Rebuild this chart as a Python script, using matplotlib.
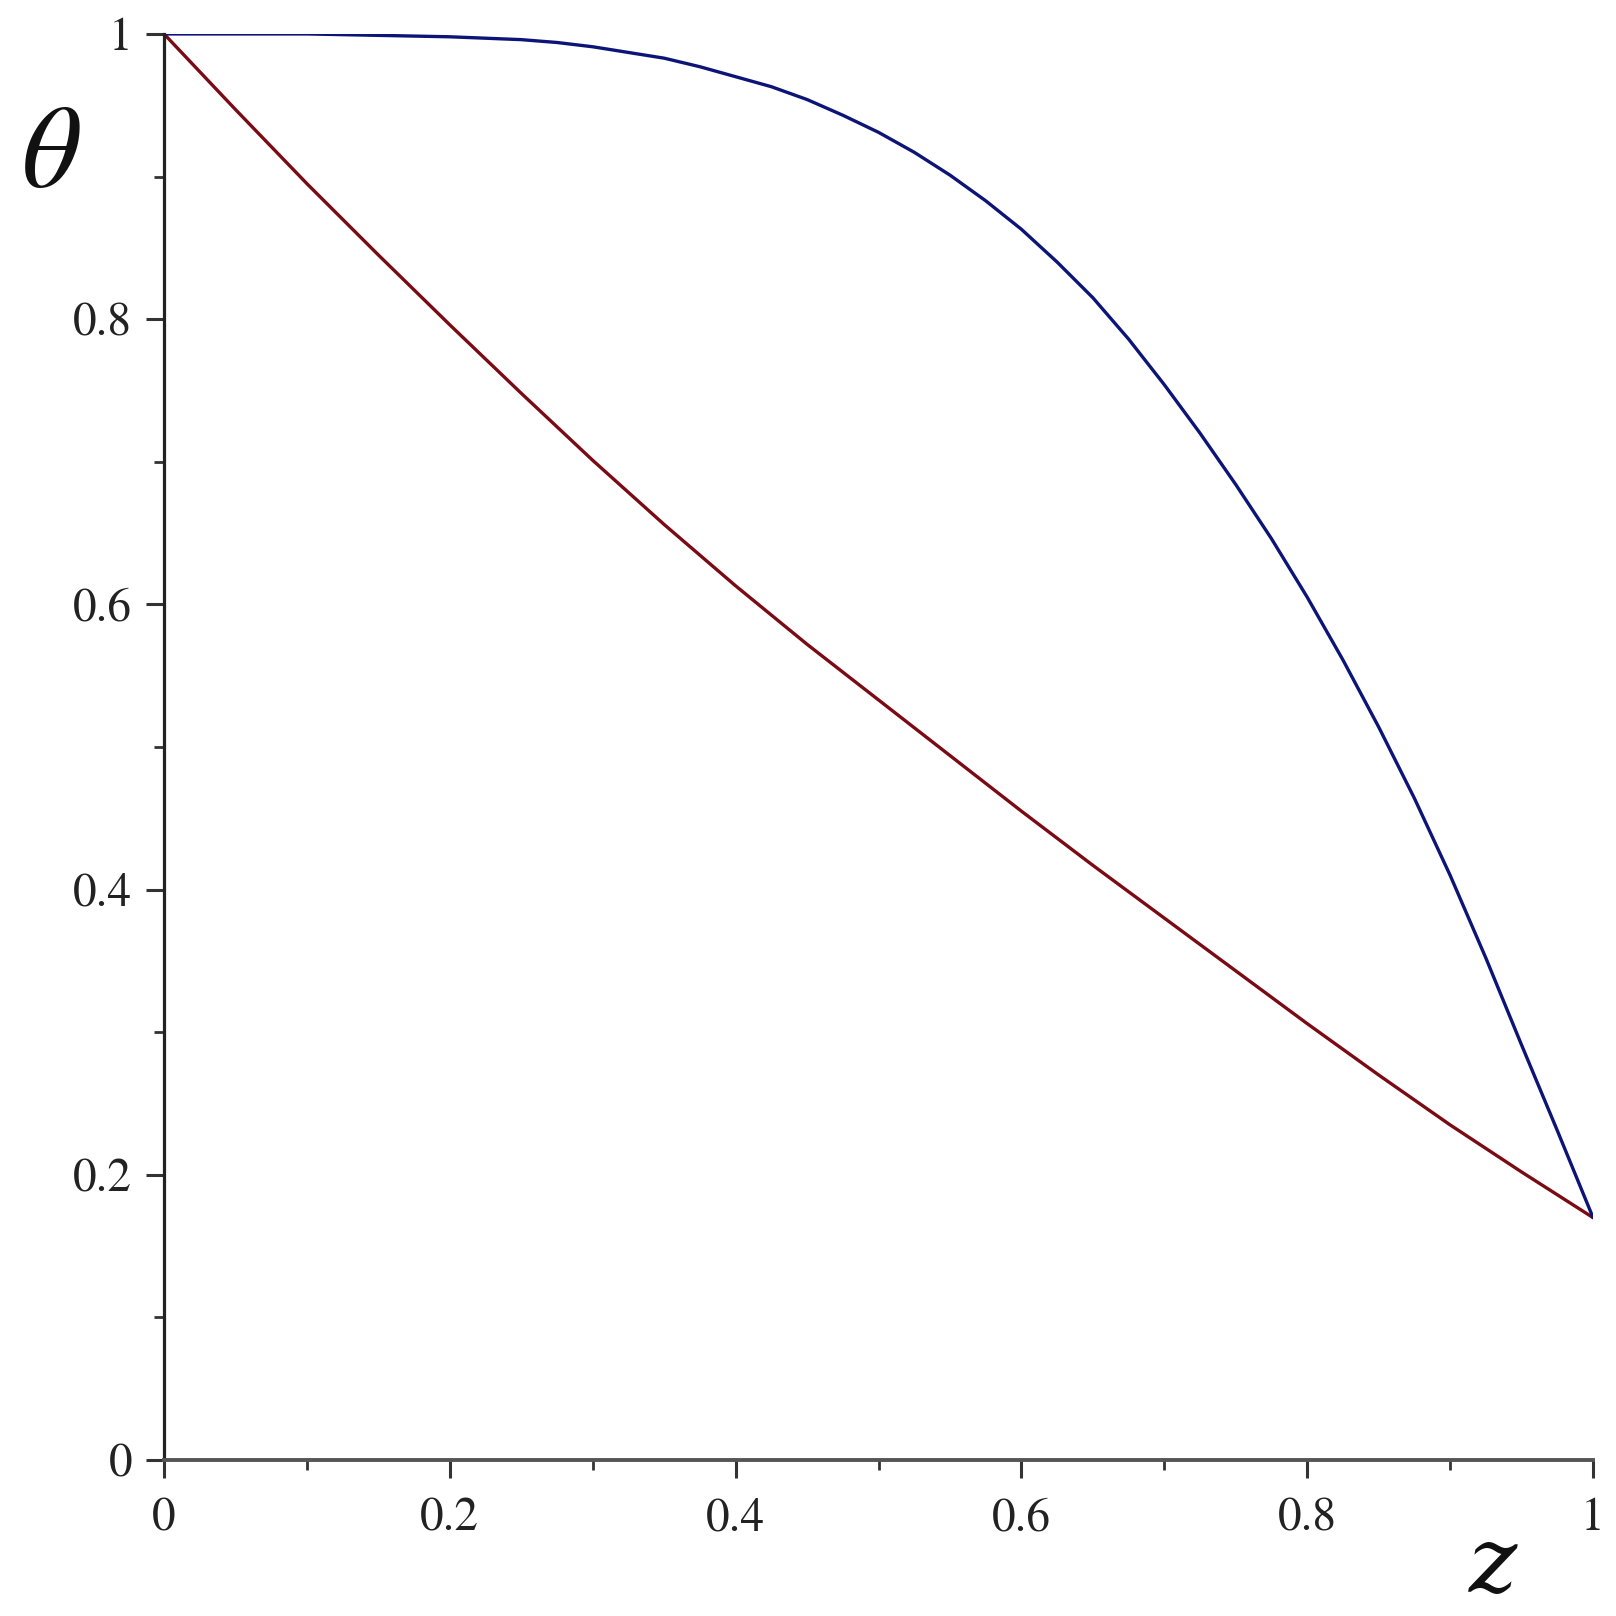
import matplotlib.pyplot as plt
from matplotlib.ticker import MultipleLocator

# values
z_red = [0.0, 0.05, 0.1, 0.15, 0.2, 0.25, 0.3, 0.35, 0.4, 0.45, 0.5,
         0.55, 0.6, 0.65, 0.7, 0.75, 0.8, 0.85, 0.9, 0.95, 1.0]
theta_red = [1.000, 0.947, 0.895, 0.845, 0.796, 0.748, 0.701, 0.656, 0.613, 0.572, 0.533,
             0.494, 0.455, 0.417, 0.380, 0.343, 0.306, 0.270, 0.235, 0.202, 0.170]

z_blue = [0.0, 0.05, 0.1, 0.15, 0.2, 0.225, 0.25, 0.275, 0.3, 0.325, 0.35, 0.375,
          0.4, 0.425, 0.45, 0.475, 0.5, 0.525, 0.55, 0.575, 0.6, 0.625, 0.65, 0.675,
          0.7, 0.725, 0.75, 0.775, 0.8, 0.825, 0.85, 0.875, 0.9, 0.925, 0.95, 0.975, 1.0]
theta_blue = [1.000, 1.000, 1.000, 0.999, 0.998, 0.997, 0.996, 0.994, 0.991, 0.987, 0.983, 0.977,
              0.970, 0.963, 0.954, 0.943, 0.931, 0.917, 0.901, 0.883, 0.863, 0.840, 0.815, 0.786,
              0.754, 0.720, 0.684, 0.646, 0.605, 0.561, 0.514, 0.464, 0.410, 0.352, 0.291, 0.231, 0.170]

x_ticks = [0, 0.2, 0.4, 0.6, 0.8, 1]
x_labels = ['0', '0.2', '0.4', '0.6', '0.8', '1']
y_ticks = [0, 0.2, 0.4, 0.6, 0.8, 1]
y_labels = ['0', '0.2', '0.4', '0.6', '0.8', '1']

plt.rcParams['font.family'] = ['STIXGeneral', 'DejaVu Serif']

fig = plt.figure(figsize=(16.16, 16.16), dpi=100)
ax = fig.add_axes([0.1015, 0.0965, 0.8843, 0.8825])

ax.plot(z_red, theta_red, color='#7a0a14', lw=2.4, solid_capstyle='round')
ax.plot(z_blue, theta_blue, color='#0c1478', lw=2.4, solid_capstyle='round')

ax.set_xlim(0, 1)
ax.set_ylim(0, 1)
ax.spines['top'].set_visible(False)
ax.spines['right'].set_visible(False)
ax.spines['left'].set_color('#222222')
ax.spines['bottom'].set_color('#555555')
ax.spines['left'].set_linewidth(2.3)
ax.spines['bottom'].set_linewidth(2.8)

ax.set_xticks(x_ticks)
ax.set_xticklabels(x_labels)
ax.set_yticks(y_ticks)
ax.set_yticklabels(y_labels)
ax.xaxis.set_minor_locator(MultipleLocator(0.1))
ax.yaxis.set_minor_locator(MultipleLocator(0.1))
ax.tick_params(which='major', direction='out', length=13, width=2.2, color='#333333',
               labelsize=34, labelcolor='#222222')
ax.tick_params(axis='x', which='major', pad=14)
ax.tick_params(axis='y', which='major', pad=10)
ax.tick_params(which='minor', direction='out', length=7, width=2.0, color='#333333')

fig.text(50 / 1616, 1 - 158 / 1616, '\u03b8', fontsize=84, style='italic',
         ha='center', va='center', color='#111111')
fig.text(1493 / 1616, 1 - 1592 / 1616, 'z', fontsize=66, style='italic',
         family='DejaVu Serif', ha='center', va='baseline', color='#111111')

fig.savefig('out.png', dpi=100, facecolor='white')
